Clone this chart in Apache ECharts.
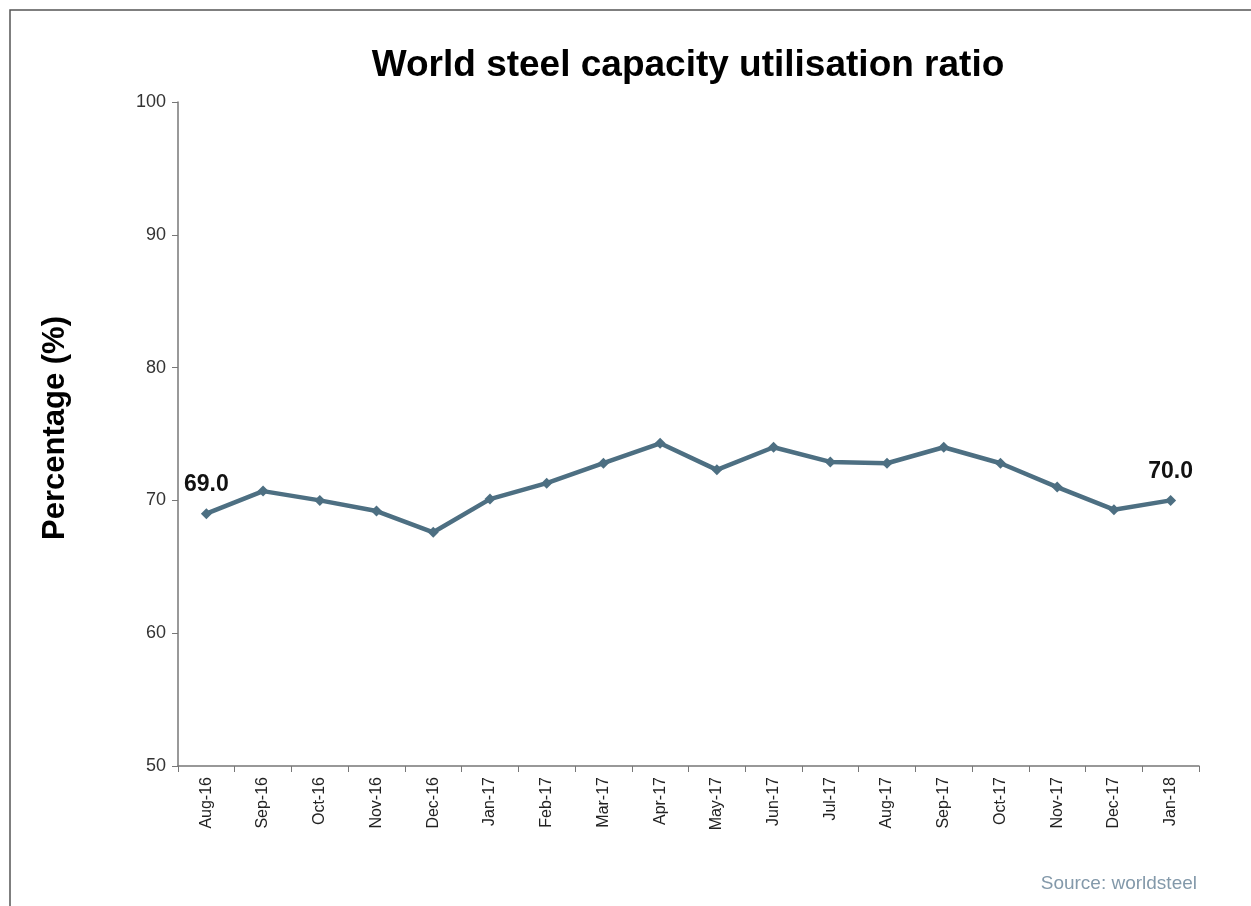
<!DOCTYPE html>
<html>
<head>
<meta charset="utf-8">
<title>World steel capacity utilisation ratio</title>
<script src="https://cdn.jsdelivr.net/npm/echarts@6/dist/echarts.min.js"></script>
<style>
  html, body { margin: 0; padding: 0; background: #fff; }
  #main { width: 1251px; height: 906px; }
</style>
</head>
<body>
<div id="main"></div>
<script>
// months shown on the x axis
const months = ['Aug-16', 'Sep-16', 'Oct-16', 'Nov-16', 'Dec-16', 'Jan-17', 'Feb-17', 'Mar-17', 'Apr-17',
  'May-17', 'Jun-17', 'Jul-17', 'Aug-17', 'Sep-17', 'Oct-17', 'Nov-17', 'Dec-17', 'Jan-18']
// capacity utilisation, %
const ratio = [69.0, 70.7, 70.0, 69.2, 67.6, 70.1, 71.3, 72.8, 74.3,
  72.3, 74.0, 72.9, 72.8, 74.0, 72.8, 71.0, 69.3, 70.0]
// only first and last points carry a label
const labelled = [0, months.length - 1]

var chartDom = document.getElementById('main')
var myChart = echarts.init(chartDom)
var option

option = {
  backgroundColor: '#fff',
  animation: false,
  title: {
    text: 'World steel capacity utilisation ratio',
    left: 683,
    top: 42,
    textAlign: 'center',
    textStyle: {
      fontFamily: 'Liberation Sans, Arial, sans-serif',
      fontSize: 37,
      fontWeight: 'bold',
      color: '#000'
    }
  },
  graphic: [
    {
      type: 'rect',
      shape: { x: 10, y: 10, width: 1300, height: 1000 },
      style: { fill: 'none', stroke: '#555', lineWidth: 1.5 },
      silent: true
    },
    {
      type: 'text',
      right: 54,
      top: 874,
      style: {
        text: 'Source: worldsteel',
        font: '19px "Liberation Sans", Arial, sans-serif',
        fill: '#8399aa'
      }
    }
  ],
  grid: {
    left: 178,
    right: 52,
    top: 102,
    bottom: 140
  },
  xAxis: {
    type: 'category',
    data: months,
    boundaryGap: true,
    axisLine: { lineStyle: { color: '#777', width: 1.5 } },
    axisTick: { show: true, length: 6, lineStyle: { color: '#777' } },
    axisLabel: {
      rotate: 90,
      interval: 0,
      margin: 11,
      fontFamily: 'Liberation Sans, Arial, sans-serif',
      fontSize: 16,
      color: '#222'
    },
    splitLine: { show: false }
  },
  yAxis: {
    type: 'value',
    min: 50,
    max: 100,
    interval: 10,
    name: 'Percentage (%)',
    nameLocation: 'middle',
    nameGap: 107,
    nameTextStyle: {
      fontFamily: 'Liberation Sans, Arial, sans-serif',
      fontSize: 31,
      fontWeight: 'bold',
      color: '#000',
      padding: [0, 0, 0, 12]
    },
    axisLine: { show: true, lineStyle: { color: '#777', width: 1.5 } },
    axisTick: { show: true, length: 6, lineStyle: { color: '#777' } },
    axisLabel: {
      margin: 12,
      fontFamily: 'Liberation Sans, Arial, sans-serif',
      fontSize: 18,
      color: '#333'
    },
    splitLine: { show: false }
  },
  series: [
    {
      name: 'ratio',
      type: 'line',
      data: ratio.map((v, i) => ({
        value: v,
        label: {
          show: labelled.includes(i),
          position: 'top',
          distance: 12,
          formatter: p => p.value.toFixed(1),
          fontFamily: 'Liberation Sans, Arial, sans-serif',
          fontSize: 23,
          fontWeight: 'bold',
          color: '#111'
        }
      })),
      symbol: 'diamond',
      symbolSize: 11,
      lineStyle: { color: '#4d6f82', width: 4.5 },
      itemStyle: { color: '#4d6f82' }
    }
  ]
}

option && myChart.setOption(option)
</script>
</body>
</html>
